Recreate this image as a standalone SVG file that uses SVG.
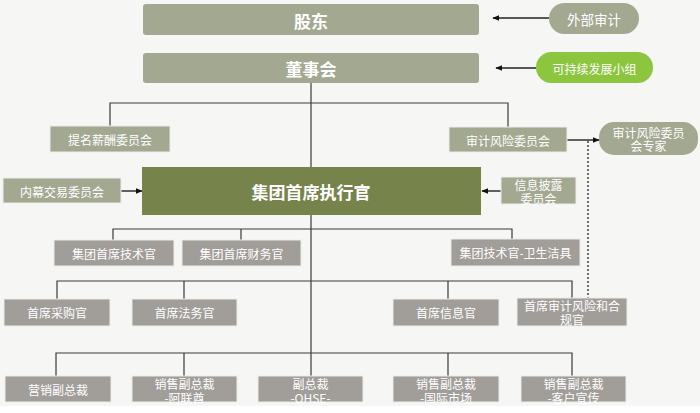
<svg xmlns="http://www.w3.org/2000/svg" width="700" height="413" viewBox="0 0 700 413">
<style>
text{font-family:"Noto Sans CJK SC","Liberation Sans",sans-serif;fill:#fff;text-anchor:middle;dominant-baseline:central}
.s{fill:#a3a891}
.g{fill:#a19d99}
.b{stroke:#ececea;stroke-width:1}
.t{font-size:12px}
.h{font-size:17px;font-weight:bold}
.ln{stroke:#3a3a3a;stroke-width:1.2;fill:none}
.ar{stroke:#222;stroke-width:1.4;fill:none;marker-end:url(#ah)}
</style>
<defs>
<marker id="ah" viewBox="0 0 10 10" refX="9" refY="5" markerWidth="7" markerHeight="7" orient="auto" markerUnits="userSpaceOnUse"><path d="M0,1 L10,5 L0,9 z" fill="#111"/></marker>
</defs>
<rect x="0" y="0" width="700" height="413" fill="#ffffff"/>
<rect x="0" y="0" width="700" height="406" fill="#f6f6f4"/>
<g id="connectors">
<path class="ln" d="M311,83 V377"/>
<path class="ln" d="M110,126 V103 H508 V127"/>
<path class="ln" d="M113,240 V229 H512 V239"/>
<path class="ln" d="M241,229 V240"/>
<path class="ln" d="M57,299 V281 H572 V298"/>
<path class="ln" d="M184,281 V299"/>
<path class="ln" d="M448,281 V299"/>
<path class="ln" d="M56,376 V353 H572 V376"/>
<path class="ln" d="M184,353 V376"/>
<path class="ln" d="M448,353 V376"/>
<path class="ar" d="M549,18 H493"/>
<path class="ar" d="M536,68 H496"/>
<path class="ar" d="M567,140 H599"/>
<path class="ar" d="M121,191 H142"/>
<path class="ar" d="M501,191 H482"/>
<path d="M588,141 V298" stroke="#444" stroke-width="1.5" stroke-dasharray="2,2" fill="none"/>
</g>
<g id="shareholders"><rect class="s" x="143" y="4" width="336" height="31" rx="3"/><text class="h" x="311" y="20">股东</text></g>
<g id="board"><rect class="s" x="143" y="53" width="336" height="30" rx="3"/><text class="h" x="311" y="68">董事会</text></g>
<g id="external-audit"><rect class="s" x="549" y="3" width="90" height="31" rx="15.5"/><text x="594" y="19" style="font-size:13.5px">外部审计</text></g>
<g id="sustainability"><rect x="536" y="52" width="117" height="31" rx="15.5" fill="#8cc63f"/><text class="t" x="594.5" y="68">可持续发展小组</text></g>
<g id="nomination"><rect class="s b" x="50" y="126" width="120" height="26"/><text class="t" x="110" y="139">提名薪酬委员会</text></g>
<g id="audit-committee"><rect class="s b" x="449" y="127" width="118" height="25"/><text class="t" x="508" y="140">审计风险委员会</text></g>
<g id="audit-expert"><rect class="s" x="599" y="122" width="99" height="33" rx="15"/><text class="t" x="648.5" y="132">审计风险委员</text><text class="t" x="648.5" y="145">会专家</text></g>
<g id="ceo"><rect x="142" y="167" width="339" height="48" fill="#76844b"/><text class="h" x="311" y="191">集团首席执行官</text></g>
<g id="insider"><rect class="s b" x="3" y="178" width="118" height="25"/><text class="t" x="62" y="191">内幕交易委员会</text></g>
<g id="disclosure"><rect class="s b" x="501" y="177" width="75" height="27"/><text class="t" x="538.5" y="184">信息披露</text><text class="t" x="538.5" y="198">委员会</text></g>
<g id="cto"><rect class="g b" x="54" y="240" width="120" height="26"/><text class="t" x="114" y="253">集团首席技术官</text></g>
<g id="cfo"><rect class="g b" x="182" y="240" width="119" height="26"/><text class="t" x="241.5" y="253">集团首席财务官</text></g>
<g id="cto-sanitary"><rect class="g b" x="451" y="239" width="129" height="27"/><text class="t" x="515.5" y="252.5">集团技术官-卫生洁具</text></g>
<g id="cpo"><rect class="g b" x="4" y="299" width="106" height="27"/><text class="t" x="57" y="312.5">首席采购官</text></g>
<g id="clo"><rect class="g b" x="132" y="299" width="105" height="27"/><text class="t" x="184.5" y="312.5">首席法务官</text></g>
<g id="cio"><rect class="g b" x="393" y="299" width="106" height="27"/><text class="t" x="446" y="312.5">首席信息官</text></g>
<g id="chief-audit"><rect class="g b" x="517" y="298" width="110" height="28"/><text class="t" x="572" y="305">首席审计风险和合</text><text class="t" x="572" y="319">规官</text></g>
<g id="vp-marketing"><rect class="g b" x="5" y="376" width="106" height="26"/><text class="t" x="58" y="389">营销副总裁</text></g>
<g id="vp-uae"><rect class="g b" x="132" y="376" width="105" height="26"/><text class="t" x="184.5" y="383">销售副总裁</text><text class="t" x="184.5" y="397">-阿联酋</text></g>
<g id="vp-qhse"><rect class="g b" x="258" y="376" width="105" height="26"/><text class="t" x="310.5" y="383">副总裁</text><text class="t" x="310.5" y="397">-QHSE-</text></g>
<g id="vp-intl"><rect class="g b" x="393" y="376" width="106" height="26"/><text class="t" x="446" y="383">销售副总裁</text><text class="t" x="446" y="397">-国际市场</text></g>
<g id="vp-customer"><rect class="g b" x="521" y="376" width="105" height="26"/><text class="t" x="573.5" y="383">销售副总裁</text><text class="t" x="573.5" y="397">-客户宣传</text></g>
</svg>
